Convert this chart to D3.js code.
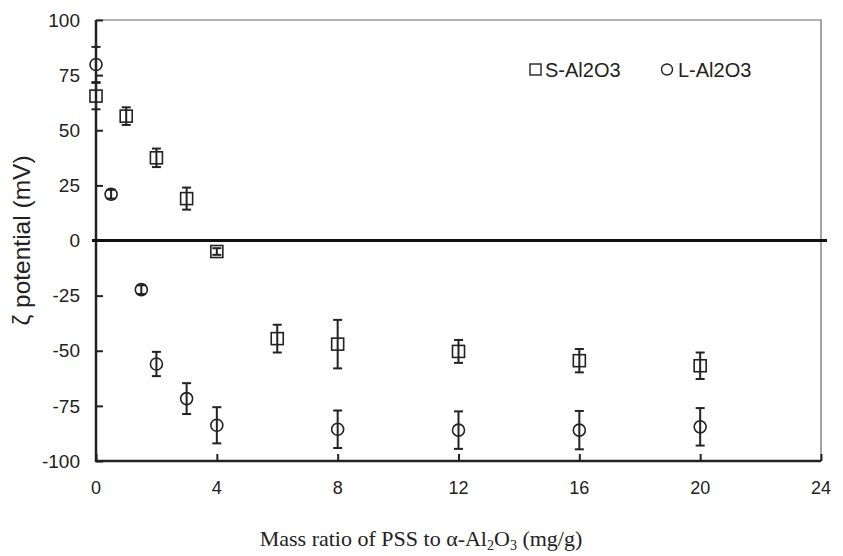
<!DOCTYPE html>
<html lang="en">
<head>
    <meta charset="utf-8">
    <title>Zeta potential</title>
    <style>
        body { margin: 0; background: #fff; }
        text { font-family: "Liberation Sans", Arial, sans-serif; fill: #222; }
    </style>
</head>
<body>
    <svg id="chart" width="843" height="556"></svg>
</body>
<script src="https://d3js.org/d3.v7.min.js"></script>
<script>
    // S-Al2O3 (squares)
    const sX = [0, 1, 2, 3, 4, 6, 8, 12, 16, 20]
    const sY = [65.5, 56.4, 37.5, 19, -5, -44.5, -47, -50.3, -54.5, -56.8]
    const sErr = [6, 4, 4.2, 5, 1.5, 6.3, 11, 5.2, 5.3, 6]

    // L-Al2O3 (circles)
    const lX = [0, 0.5, 1.5, 2, 3, 4, 8, 12, 16, 20]
    const lY = [79.8, 21, -22.3, -56, -71.7, -83.8, -85.6, -86, -86, -84.5]
    const lErr = [8, 2, 2, 5.5, 7, 8.2, 8.5, 8.5, 8.7, 8.5]

    const xTicks = [0, 4, 8, 12, 16, 20, 24]
    const yTicks = [-100, -75, -50, -25, 0, 25, 50, 75, 100]

    let svg = d3.select("#chart")
    let mLeft = 96, mRight = 821, mTop = 20, mBottom = 461

    let x = d3.scaleLinear().domain([0, 24]).range([mLeft, mRight])
    let y = d3.scaleLinear().domain([-100, 100]).range([mBottom, mTop])

    // thin plot-area border (top + right)
    svg.append("path")
        .attr("d", `M${mLeft},${mTop}H${mRight}V${mBottom}`)
        .attr("fill", "none")
        .attr("stroke", "#666")
        .attr("stroke-width", 1.2)

    // y axis, ticks inward
    let yAxis = d3.axisRight(y).tickValues(yTicks).tickSize(7).tickFormat("")
    let gy = svg.append("g").attr("transform", `translate(${mLeft},0)`).call(yAxis)
    gy.select(".domain").remove()
    gy.selectAll("line").attr("stroke", "#222").attr("stroke-width", 2)
    svg.append("line")
        .attr("x1", mLeft).attr("x2", mLeft)
        .attr("y1", mTop).attr("y2", mBottom + 1)
        .attr("stroke", "#222").attr("stroke-width", 2.5)

    svg.selectAll(".ylab").data(yTicks).enter().append("text")
        .attr("x", 80)
        .attr("y", d => y(d))
        .attr("dy", "0.35em")
        .attr("text-anchor", "end")
        .attr("font-size", 19)
        .text(d => d)

    // x axis, ticks inward
    let xAxis = d3.axisTop(x).tickValues(xTicks).tickSize(7).tickFormat("")
    let gx = svg.append("g").attr("transform", `translate(0,${mBottom})`).call(xAxis)
    gx.select(".domain").remove()
    gx.selectAll("line").attr("stroke", "#222").attr("stroke-width", 2)
    svg.append("line")
        .attr("x1", mLeft - 1).attr("x2", mRight)
        .attr("y1", mBottom).attr("y2", mBottom)
        .attr("stroke", "#222").attr("stroke-width", 2.5)

    svg.selectAll(".xlab").data(xTicks).enter().append("text")
        .attr("x", d => x(d))
        .attr("y", 494)
        .attr("text-anchor", "middle")
        .attr("font-size", 18)
        .text(d => d)

    // zero line
    svg.append("line")
        .attr("x1", mLeft - 4).attr("x2", 827)
        .attr("y1", y(0)).attr("y2", y(0))
        .attr("stroke", "#111").attr("stroke-width", 3)

    // axis titles
    svg.append("text")
        .attr("transform", `translate(30,${y(0)}) rotate(-90)`)
        .attr("text-anchor", "middle")
        .attr("font-size", 24.5)
        .text("ζ potential (mV)")

    let xt = svg.append("text")
        .attr("x", 421)
        .attr("y", 546)
        .attr("text-anchor", "middle")
        .attr("font-size", 22)
        .style("font-family", "'Liberation Serif', 'Times New Roman', serif")
    xt.append("tspan").text("Mass ratio of PSS to α-Al")
    xt.append("tspan").attr("font-size", 14).attr("dy", 4).text("2")
    xt.append("tspan").attr("dy", -4).text("O")
    xt.append("tspan").attr("font-size", 14).attr("dy", 4).text("3")
    xt.append("tspan").attr("dy", -4).text(" (mg/g)")

    function errorBars(xs, ys, es) {
        let g = svg.append("g").attr("stroke", "#222").attr("stroke-width", 2)
        xs.forEach((xv, i) => {
            let cx = x(xv), y1 = y(ys[i] + es[i]), y2 = y(ys[i] - es[i])
            g.append("line").attr("x1", cx).attr("x2", cx).attr("y1", y1).attr("y2", y2)
            g.append("line").attr("x1", cx - 4.5).attr("x2", cx + 4.5).attr("y1", y1).attr("y2", y1)
            g.append("line").attr("x1", cx - 4.5).attr("x2", cx + 4.5).attr("y1", y2).attr("y2", y2)
        })
    }

    errorBars(sX, sY, sErr)
    errorBars(lX, lY, lErr)

    svg.selectAll(".sq").data(sX).enter().append("rect")
        .attr("x", d => x(d) - 6)
        .attr("y", (d, i) => y(sY[i]) - 6)
        .attr("width", 12).attr("height", 12)
        .attr("fill", "none")
        .attr("stroke", "#222").attr("stroke-width", 1.6)

    svg.selectAll(".ci").data(lX).enter().append("circle")
        .attr("cx", d => x(d))
        .attr("cy", (d, i) => y(lY[i]))
        .attr("r", 6)
        .attr("fill", "none")
        .attr("stroke", "#222").attr("stroke-width", 1.6)

    // legend
    svg.append("rect")
        .attr("x", 530).attr("y", 64).attr("width", 11).attr("height", 11)
        .attr("fill", "none").attr("stroke", "#222").attr("stroke-width", 1.4)
    svg.append("text").attr("x", 545).attr("y", 77).attr("font-size", 20).text("S-Al2O3")
    svg.append("circle")
        .attr("cx", 667).attr("cy", 69.5).attr("r", 5.5)
        .attr("fill", "none").attr("stroke", "#222").attr("stroke-width", 1.4)
    svg.append("text").attr("x", 678).attr("y", 77).attr("font-size", 20).text("L-Al2O3")
</script>
</html>
